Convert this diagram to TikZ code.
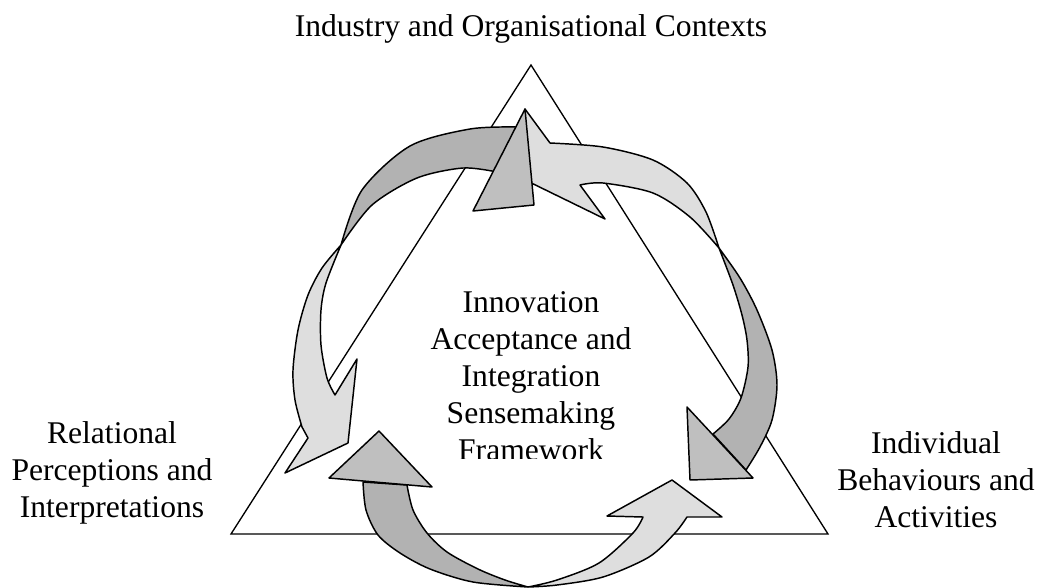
\documentclass[tikz,border=0pt]{standalone}
\usepackage{fontspec}
\setmainfont{Liberation Serif}

\begin{document}
\begin{tikzpicture}[x=0.75pt,y=-0.75pt,
  words/.style={font=\fontsize{23.7}{27.75}\selectfont, align=center, anchor=base, inner sep=0pt},
  lightarrow/.style={fill=black!13, draw=black, line width=1.1pt, line join=round},
  darkarrow/.style={fill=black!30, draw=black, line width=1.1pt, line join=round},
  darkhead/.style={fill=black!25, draw=black, line width=1.1pt, line join=round}]
\useasboundingbox (0,0) rectangle (1040,587);

% triangle
\coordinate (apex) at (531,65);
\coordinate (baseL) at (231,534);
\coordinate (baseR) at (828,534);
\draw[line width=1pt] (apex) -- (baseL) -- (baseR) -- cycle;

% light arrows
\filldraw[lightarrow] (525,109) -- (550,143)
  -- plot[smooth] coordinates {(550,143) (603,147) (653,160) (687,183) (706,212) (719,248)}
  -- plot[smooth] coordinates {(719,248) (690,217) (653,193) (603,183) (580,185)}
  -- (605,219) -- (517,176) -- cycle;
\filldraw[lightarrow] plot[smooth] coordinates {(341,245) (322,268) (308,295) (298,330) (293,370) (295,400) (302,427)}
  -- (308,438) -- (285,473) -- (348,443) -- (357,359) -- (335,395)
  -- plot[smooth] coordinates {(335,395) (327,378) (321,345) (321,310) (326,283) (341,245)} -- cycle;
\filldraw[lightarrow] plot[smooth] coordinates {(528,587) (557,585) (603,577) (649,557) (675,533) (687,517)}
  -- (722,517) -- (672,480) -- (607,516) -- (643,517)
  -- plot[smooth] coordinates {(643,517) (633,533) (599,563) (557,580) (528,587)} -- cycle;

% dark arrows
\filldraw[darkarrow] plot[smooth] coordinates {(341,245) (362,190) (410,146) (470,129) (517,127)}
  -- (497,172)
  -- plot[smooth] coordinates {(497,172) (463,168) (417,178) (372,205) (341,245)} -- cycle;
\filldraw[darkarrow] plot[smooth] coordinates {(719,248) (740,278) (757,310) (772,350) (777,385) (772,420) (760,447) (746,470)}
  -- (713,434)
  -- plot[smooth] coordinates {(713,434) (729,419) (741,398) (748,367) (747,340) (742,315) (733,285) (719,248)} -- cycle;
\filldraw[darkarrow] plot[smooth] coordinates {(363,482) (366,510) (378,535) (400,553) (430,569) (473,582) (528,587)}
  -- plot[smooth] coordinates {(528,587) (505,580) (478,569) (447,552) (427,533) (413,510) (407,485)} -- cycle;

\filldraw[darkhead] (525,109) -- (473,211) -- (534,205) -- cycle;
\filldraw[darkhead] (687,407) -- (753,478) -- (690,480) -- cycle;
\filldraw[darkhead] (379,431) -- (329,478) -- (432,487) -- cycle;

% labels (base = last line)
\node[words] (context) at (531,36) {Industry and Organisational Contexts};
\node[words] (relational) at (112,517) {Relational\\Perceptions and\\Interpretations};
\node[words] (individual) at (936,527) {Individual\\Behaviours and\\Activities};
\begin{scope}
\clip (0,0) rectangle (1040,458);
\node[words] (framework) at (531,460) {Innovation\\Acceptance and\\Integration\\Sensemaking\\Framework};
\end{scope}

\end{tikzpicture}
\end{document}
